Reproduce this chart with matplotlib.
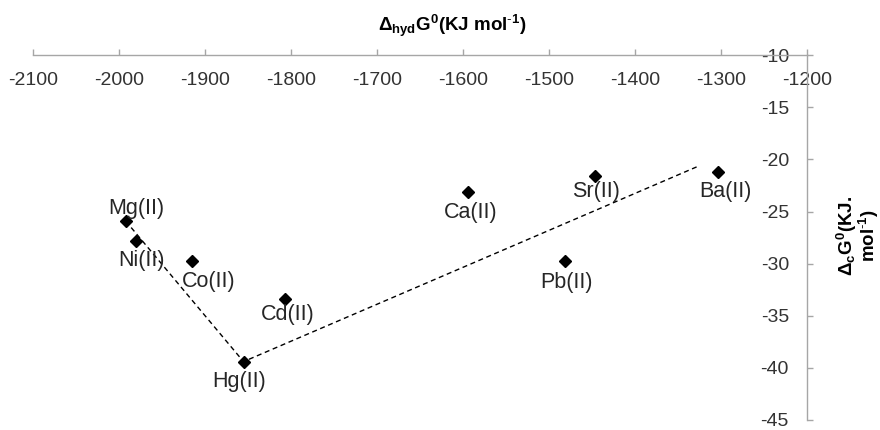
import matplotlib
matplotlib.use("Agg")
import matplotlib.pyplot as plt
import numpy as np

plt.rcParams['font.family'] = ['Liberation Sans', 'DejaVu Sans']
plt.rcParams['axes.unicode_minus'] = False
plt.rcParams['mathtext.fontset'] = 'custom'
plt.rcParams['mathtext.rm'] = 'Liberation Sans'
plt.rcParams['mathtext.bf'] = 'Liberation Sans:bold'
plt.rcParams['mathtext.it'] = 'Liberation Sans:italic'

# data
ions = ['Mg(II)', 'Ni(II)', 'Co(II)', 'Cd(II)', 'Hg(II)', 'Ca(II)', 'Sr(II)', 'Pb(II)', 'Ba(II)']
hyd_g = [-1992, -1980, -1915, -1807, -1855, -1594, -1447, -1481, -1304]
c_g = [-25.9, -27.8, -29.7, -33.4, -39.4, -23.1, -21.6, -29.7, -21.2]
trend_x = [-1992, -1855, -1328]
trend_y = [-25.9, -39.4, -20.7]
xticks = np.arange(-2100, -1199, 100)
yticks = np.arange(-45, -9, 5)

# label offsets in points (below the marker, Mg above)
offs = [(8, 9), (4, -14), (12, -15), (2, -11), (-3, -14), (2, -15), (1, -11), (1, -16), (6, -14)]

fig = plt.figure(figsize=(8.8, 4.3), dpi=100)
ax = fig.add_axes([0.0372, 0.0233, 0.8799, 0.8481])

ax.plot(trend_x, trend_y, color='black', lw=1.0, dashes=(3.6, 2.6))
ax.plot(hyd_g, c_g, 'D', color='black', markersize=6, ls='none')

for name, x, y, o in zip(ions, hyd_g, c_g, offs):
    ax.annotate(name, (x, y), xytext=o, textcoords='offset points',
                ha='center', va='center', fontsize=15.5, color='#262626')

ax.set_xlim(-2100, -1200)
ax.set_ylim(-45, -10)
ax.set_xticks(xticks)
ax.set_yticks(yticks)

for s in ['top', 'right']:
    ax.spines[s].set_visible(False)
ax.spines['bottom'].set_position(('data', -10))
ax.spines['left'].set_position(('data', -1200))
for s in ['bottom', 'left']:
    ax.spines[s].set_color('#a6a6a6')
    ax.spines[s].set_linewidth(1.0)

ax.tick_params(axis='x', direction='in', length=4.5, width=1.0, color='#a6a6a6',
               labelsize=14, labelcolor='#333333', pad=12)
ax.tick_params(axis='y', direction='in', length=4.5, width=1.0, color='#a6a6a6',
               labelsize=14, labelcolor='#333333', pad=13)
ax.patch.set_visible(False)

fig.text(452 / 880, 1 - 26 / 430, r'$\mathbf{\Delta_{hyd}G^{0}(KJ\ mol^{\text{-}1})}$',
         ha='center', va='center', fontsize=13.5, color='black')
fig.text(858 / 880, 1 - 236 / 430, r'$\mathbf{\Delta_{c}G^{0}(KJ.}$' + '\n' + r'$\mathbf{mol^{\text{-}1})}$',
         ha='center', va='center', rotation=90, multialignment='center',
         fontsize=13.5, color='black', linespacing=0.9)

fig.savefig('out.png', dpi=100)
